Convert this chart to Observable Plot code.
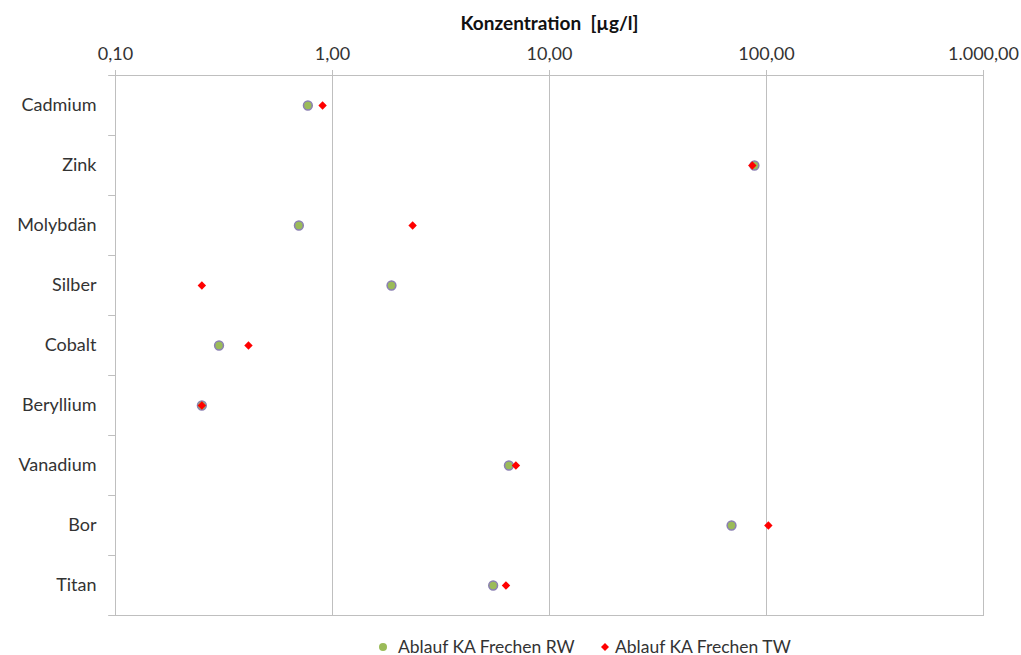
<!DOCTYPE html>
<html>
<head>
<meta charset="utf-8">
<script src="https://cdn.jsdelivr.net/npm/d3@7"></script>
<script src="https://cdn.jsdelivr.net/npm/@observablehq/plot@0.6"></script>
<style>
  html, body { margin: 0; padding: 0; background: #fff; overflow: hidden; }
  body { font-family: Lato, "Open Sans", sans-serif; color: #333; }
  #chart svg { display: block; }
  #legend {
    position: relative; height: 17px; margin-top: 8px;
    font-size: 17.5px; line-height: 17px; color: #333; white-space: nowrap;
  }
  #legend .sw { position: absolute; top: 4px; width: 10px; height: 10px; }
  #legend .sw svg { display: block; }
  #legend .lbl { position: absolute; top: 0; }
</style>
</head>
<body>
<div id="chart"></div>
<div id="legend"></div>
<script>
// Elements, top to bottom
const elements = ["Cadmium", "Zink", "Molybdän", "Silber", "Cobalt", "Beryllium", "Vanadium", "Bor", "Titan"];
// Concentration in µg/l, effluent KA Frechen (RW / TW)
const valuesRW = [0.77, 88, 0.70, 1.87, 0.30, 0.25, 6.5, 69, 5.5];
const valuesTW = [0.90, 86, 2.34, 0.25, 0.41, 0.25, 7.0, 102, 6.3];
const seriesNames = ["Ablauf KA Frechen RW", "Ablauf KA Frechen TW"];
const xTicks = [0.1, 1, 10, 100, 1000];
const axisTitle = "Konzentration  [µg/l]";

const rows = elements.map((e, i) => ({element: e, rw: valuesRW[i], tw: valuesTW[i]}));

const de = d3.formatLocale({decimal: ",", thousands: ".", grouping: [3], currency: ["", " €"]});
const fmt = de.format(",.2f");

const grey = "#bfbfbf";
const last = elements[elements.length - 1];

const chart = Plot.plot({
  width: 1021,
  height: 630,
  marginLeft: 115,
  marginRight: 38,
  marginTop: 75,
  marginBottom: 15,
  style: {fontFamily: "Lato, 'Open Sans', sans-serif", fontSize: "18px", color: "#333", background: "#fff"},
  x: {type: "log", domain: [0.1, 1000]},
  y: {type: "point", domain: elements, padding: 0.5},
  marks: [
    Plot.ruleX(xTicks.slice(1), {stroke: grey, strokeWidth: 1}),
    Plot.frame({stroke: grey, strokeWidth: 1}),
    // short ticks on the left edge, between the categories
    Plot.ruleY(elements, {y: d => d, x1: 0.093, x2: 0.1, dy: -30, stroke: grey}),
    Plot.ruleY([last], {y: d => d, x1: 0.093, x2: 0.1, dy: 30, stroke: grey}),
    Plot.axisX({anchor: "top", ticks: xTicks, tickFormat: fmt, tickSize: 6, tickPadding: 10,
      stroke: grey, fill: "#333", fontSize: 18, label: null}),
    Plot.axisY({anchor: "left", tickSize: 0, tickPadding: 19, fill: "#333", fontSize: 18, label: null}),
    Plot.text([axisTitle], {frameAnchor: "top", dy: -59, fontWeight: "bold", fontSize: 19, fill: "#111"}),
    Plot.dot(rows, {x: "rw", y: "element", r: 4.4, fill: "#9bbb59", stroke: "#8a7fb2", strokeWidth: 1.5}),
    Plot.dot(rows, {x: "tw", y: "element", symbol: "diamond2", r: 3.8, fill: "#ff0000", stroke: "none"})
  ]
});
document.getElementById("chart").append(chart);

// Legend below the chart
const legend = document.getElementById("legend");
const swatches = [
  `<svg width="10" height="10"><circle cx="5" cy="5" r="4" fill="#9bbb59"/></svg>`,
  `<svg width="10" height="10"><path d="M5 1 L9 5 L5 9 L1 5 Z" fill="#ff0000"/></svg>`
];
const swatchLeft = [378, 600];
const labelLeft = [398, 615];
seriesNames.forEach((name, i) => {
  const sw = document.createElement("span");
  sw.className = "sw";
  sw.style.left = swatchLeft[i] + "px";
  sw.innerHTML = swatches[i];
  const lbl = document.createElement("span");
  lbl.className = "lbl";
  lbl.style.left = labelLeft[i] + "px";
  lbl.textContent = name;
  legend.append(sw, lbl);
});
</script>
</body>
</html>
